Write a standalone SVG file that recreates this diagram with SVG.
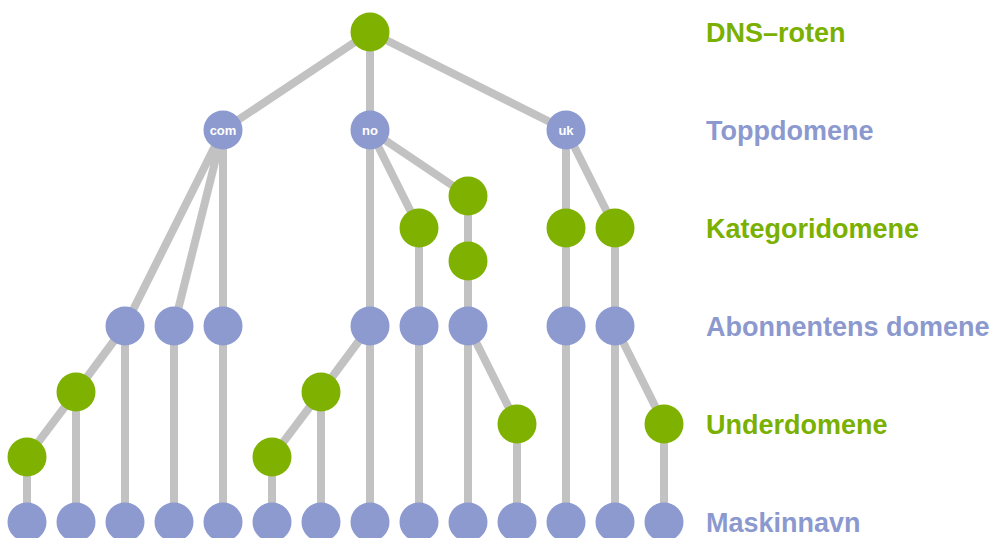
<svg xmlns="http://www.w3.org/2000/svg" width="995" height="538" viewBox="0 0 995 538">
<style>
.e{stroke:#c2c2c2;stroke-width:8;fill:none}
.g{fill:#7fb200}
.b{fill:#8d9ad0}
.nl{fill:#fff;font-family:"Liberation Sans",Arial,sans-serif;font-weight:bold;font-size:13px;text-anchor:middle}
.lg{fill:#7ab000;font-family:"Liberation Sans",Arial,sans-serif;font-weight:bold;font-size:27px}
.lb{fill:#8c99cf;font-family:"Liberation Sans",Arial,sans-serif;font-weight:bold;font-size:27px}
</style>
<rect width="995" height="538" fill="#fff"/>
<g id="connectors">
<path class="e" d="M370 32L223 130M370 32L370 130M370 32L566 130"/>
<path class="e" d="M223 130L125 326M223 130L174 326M223 130L223 326"/>
<path class="e" d="M370 130L370 326M370 130L419 228M370 130L468 196M419 228L419 326M468 196L468 326"/>
<path class="e" d="M566 130L566 326M566 130L615 228M615 228L615 326"/>
<path class="e" d="M125 326L76 392L27 457L27 522M76 392L76 522M125 326L125 522M174 326L174 522M223 326L223 522"/>
<path class="e" d="M370 326L321 392L272 457L272 522M321 392L321 522M370 326L370 522M419 326L419 522"/>
<path class="e" d="M468 326L468 522M468 326L517 424L517 522M566 326L566 522M615 326L615 522M615 326L664 424L664 522"/>
</g>
<g id="root"><circle class="g" cx="370" cy="32" r="19.5"/></g>
<g id="com"><circle class="b" cx="223" cy="130" r="19.5"/><text class="nl" x="223" y="134.5">com</text></g>
<g id="no"><circle class="b" cx="370" cy="130" r="19.5"/><text class="nl" x="370" y="134.5">no</text></g>
<g id="uk"><circle class="b" cx="566" cy="130" r="19.5"/><text class="nl" x="566" y="134.5">uk</text></g>
<g id="kat-no-1"><circle class="g" cx="419" cy="228" r="19.5"/></g>
<g id="kat-no-2a"><circle class="g" cx="468" cy="196" r="19.5"/></g>
<g id="kat-no-2b"><circle class="g" cx="468" cy="261" r="19.5"/></g>
<g id="kat-uk-1"><circle class="g" cx="566" cy="228" r="19.5"/></g>
<g id="kat-uk-2"><circle class="g" cx="615" cy="228" r="19.5"/></g>
<g id="abo-1"><circle class="b" cx="125" cy="326" r="19.5"/></g>
<g id="abo-2"><circle class="b" cx="174" cy="326" r="19.5"/></g>
<g id="abo-3"><circle class="b" cx="223" cy="326" r="19.5"/></g>
<g id="abo-4"><circle class="b" cx="370" cy="326" r="19.5"/></g>
<g id="abo-5"><circle class="b" cx="419" cy="326" r="19.5"/></g>
<g id="abo-6"><circle class="b" cx="468" cy="326" r="19.5"/></g>
<g id="abo-7"><circle class="b" cx="566" cy="326" r="19.5"/></g>
<g id="abo-8"><circle class="b" cx="615" cy="326" r="19.5"/></g>
<g id="sub-1"><circle class="g" cx="76" cy="392" r="19.5"/></g>
<g id="sub-2"><circle class="g" cx="27" cy="457" r="19.5"/></g>
<g id="sub-3"><circle class="g" cx="321" cy="392" r="19.5"/></g>
<g id="sub-4"><circle class="g" cx="272" cy="457" r="19.5"/></g>
<g id="sub-5"><circle class="g" cx="517" cy="424" r="19.5"/></g>
<g id="sub-6"><circle class="g" cx="664" cy="424" r="19.5"/></g>
<g id="host-1"><circle class="b" cx="27" cy="522" r="19.5"/></g>
<g id="host-2"><circle class="b" cx="76" cy="522" r="19.5"/></g>
<g id="host-3"><circle class="b" cx="125" cy="522" r="19.5"/></g>
<g id="host-4"><circle class="b" cx="174" cy="522" r="19.5"/></g>
<g id="host-5"><circle class="b" cx="223" cy="522" r="19.5"/></g>
<g id="host-6"><circle class="b" cx="272" cy="522" r="19.5"/></g>
<g id="host-7"><circle class="b" cx="321" cy="522" r="19.5"/></g>
<g id="host-8"><circle class="b" cx="370" cy="522" r="19.5"/></g>
<g id="host-9"><circle class="b" cx="419" cy="522" r="19.5"/></g>
<g id="host-10"><circle class="b" cx="468" cy="522" r="19.5"/></g>
<g id="host-11"><circle class="b" cx="517" cy="522" r="19.5"/></g>
<g id="host-12"><circle class="b" cx="566" cy="522" r="19.5"/></g>
<g id="host-13"><circle class="b" cx="615" cy="522" r="19.5"/></g>
<g id="host-14"><circle class="b" cx="664" cy="522" r="19.5"/></g>
<g id="labels">
<text class="lg" x="706" y="42">DNS–roten</text>
<text class="lb" x="706" y="140">Toppdomene</text>
<text class="lg" x="706" y="238">Kategoridomene</text>
<text class="lb" x="706" y="336">Abonnentens domene</text>
<text class="lg" x="706" y="434">Underdomene</text>
<text class="lb" x="706" y="532">Maskinnavn</text>
</g>
</svg>
